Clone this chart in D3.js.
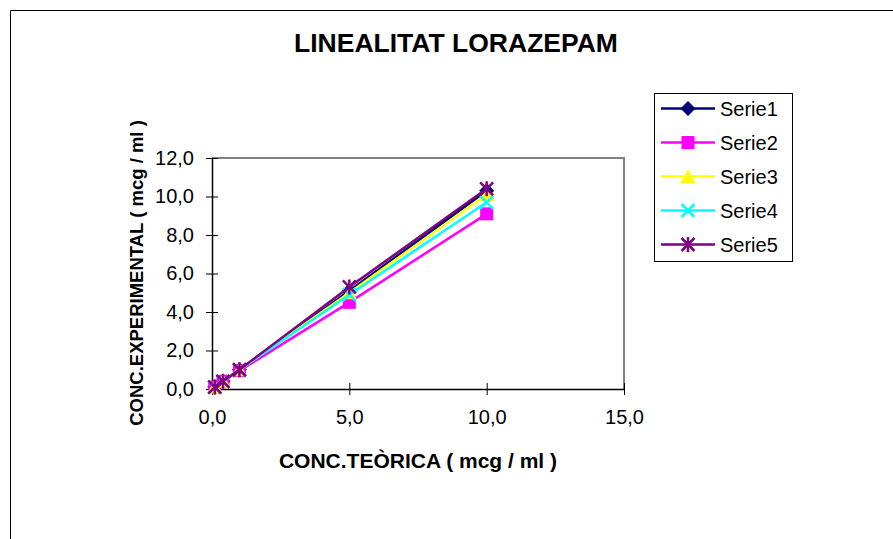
<!DOCTYPE html>
<html>
<head>
<meta charset="utf-8">
<script src="https://cdn.jsdelivr.net/npm/d3@7"></script>
<style>
  html, body { margin: 0; padding: 0; background: #fff; }
  svg { display: block; font-family: "Liberation Sans", Arial, sans-serif; }
</style>
</head>
<body>
<svg id="chart" width="893" height="539"></svg>
<script>
// Theoretical concentrations (mcg/ml)
const concTeorica = [0.1, 0.4, 1.0, 5.0, 10.0];

// Experimental concentrations per series (mcg/ml)
const serie1 = [0.1, 0.4, 1.0, 5.1, 10.3];
const serie2 = [0.1, 0.4, 0.95, 4.5, 9.1];
const serie3 = [0.1, 0.4, 1.0, 5.0, 10.1];
const serie4 = [0.1, 0.4, 1.0, 4.9, 9.7];
const serie5 = [0.1, 0.4, 1.0, 5.3, 10.4];

const seriesNames = ["Serie1", "Serie2", "Serie3", "Serie4", "Serie5"];
const seriesColors = ["#000080", "#FF00FF", "#FFFF00", "#00FFFF", "#800080"];
const seriesSymbols = ["diamond", "square", "triangle", "cross", "star"];

const xTicks = [0, 5, 10, 15];
const yTicks = [0, 2, 4, 6, 8, 10, 12];

const series = [serie1, serie2, serie3, serie4, serie5].map((vals, i) => ({
  name: seriesNames[i],
  color: seriesColors[i],
  symbol: seriesSymbols[i],
  points: vals.map((v, j) => ({ x: concTeorica[j], y: v }))
}));

const svg = d3.select("#chart");
const fmt = d => d.toFixed(1).replace(".", ",");

// Outer chart frame
svg.append("path")
  .attr("d", "M10.5,539 V10.5 H893")
  .attr("fill", "none").attr("stroke", "#000").attr("stroke-width", 1);

const plot = { left: 212, right: 624, top: 158, bottom: 389 };
const x = d3.scaleLinear().domain([0, 15]).range([plot.left, plot.right]);
const y = d3.scaleLinear().domain([0, 12]).range([plot.bottom, plot.top]);

// Plot area border (top and right in grey)
svg.append("path")
  .attr("d", `M${plot.left},${plot.top} H${plot.right} V${plot.bottom}`)
  .attr("fill", "none").attr("stroke", "#808080").attr("stroke-width", 2);

// Axes
const xAxis = d3.axisBottom(x).tickValues(xTicks).tickFormat(fmt).tickSize(6).tickSizeOuter(0);
const yAxis = d3.axisLeft(y).tickValues(yTicks).tickFormat(fmt).tickSize(6).tickSizeOuter(0);

const gx = svg.append("g").attr("transform", `translate(0,${plot.bottom})`).call(xAxis);
const gy = svg.append("g").attr("transform", `translate(${plot.left},0)`).call(yAxis);

[gx, gy].forEach(g => {
  g.select(".domain").attr("stroke", "#000").attr("stroke-width", 1.5);
  g.selectAll(".tick line").attr("stroke", "#000").attr("stroke-width", 1);
  g.selectAll(".tick text").attr("fill", "#000").attr("font-size", 20)
    .attr("font-family", "Liberation Sans, Arial, sans-serif");
});
// ticks crossing the axis line
gx.selectAll(".tick line").attr("y1", -6).attr("y2", 6);
gx.selectAll(".tick text").attr("y", 21).attr("dy", "0.71em");
gy.selectAll(".tick line").attr("x1", -6).attr("x2", 6);
gy.selectAll(".tick text").attr("x", -18);

// Titles
svg.append("text").attr("x", 456).attr("y", 52).attr("text-anchor", "middle")
  .attr("font-size", 26.5).attr("font-weight", "bold").text("LINEALITAT LORAZEPAM");
svg.append("text").attr("x", 418).attr("y", 468).attr("text-anchor", "middle")
  .attr("font-size", 21).attr("font-weight", "bold").text("CONC.TEÒRICA ( mcg / ml )");
svg.append("text").attr("transform", "translate(143,273) rotate(-90)")
  .attr("text-anchor", "middle")
  .attr("font-size", 18.5).attr("font-weight", "bold").text("CONC.EXPERIMENTAL ( mcg / ml )");

// Marker drawing
function drawMarker(g, symbol, color, cx, cy) {
  const s = 6.5;
  if (symbol === "diamond") {
    g.append("path").attr("d", `M${cx},${cy - s - 1}L${cx + s + 1},${cy}L${cx},${cy + s + 1}L${cx - s - 1},${cy}Z`).attr("fill", color);
  } else if (symbol === "square") {
    g.append("rect").attr("x", cx - s).attr("y", cy - s).attr("width", 2 * s).attr("height", 2 * s).attr("fill", color);
  } else if (symbol === "triangle") {
    g.append("path").attr("d", `M${cx},${cy - s - 1}L${cx + s + 1},${cy + s}L${cx - s - 1},${cy + s}Z`).attr("fill", color);
  } else if (symbol === "cross") {
    g.append("path").attr("d", `M${cx - s},${cy - s}L${cx + s},${cy + s}M${cx - s},${cy + s}L${cx + s},${cy - s}`)
      .attr("stroke", color).attr("stroke-width", 2.5).attr("fill", "none");
  } else if (symbol === "star") {
    g.append("path").attr("d", `M${cx - s},${cy - s}L${cx + s},${cy + s}M${cx - s},${cy + s}L${cx + s},${cy - s}M${cx},${cy - s - 1}L${cx},${cy + s + 1}`)
      .attr("stroke", color).attr("stroke-width", 2.5).attr("fill", "none");
  }
}

const line = d3.line().x(d => x(d.x)).y(d => y(d.y));

// Series lines and markers
series.forEach(s => {
  const g = svg.append("g");
  g.append("path").datum(s.points).attr("d", line)
    .attr("fill", "none").attr("stroke", s.color).attr("stroke-width", 2.5);
  s.points.forEach(p => drawMarker(g, s.symbol, s.color, x(p.x), y(p.y)));
});

// Legend
const legend = svg.append("g");
legend.append("rect").attr("x", 654.5).attr("y", 93.5).attr("width", 138).attr("height", 168)
  .attr("fill", "#fff").attr("stroke", "#000").attr("stroke-width", 1);
series.forEach((s, i) => {
  const cy = 108.5 + i * 34;
  legend.append("line").attr("x1", 661).attr("x2", 715).attr("y1", cy).attr("y2", cy)
    .attr("stroke", s.color).attr("stroke-width", 2.5);
  drawMarker(legend, s.symbol, s.color, 688, cy);
  legend.append("text").attr("x", 720).attr("y", cy).attr("dy", "0.35em")
    .attr("font-size", 20).text(s.name);
});
</script>
</body>
</html>
